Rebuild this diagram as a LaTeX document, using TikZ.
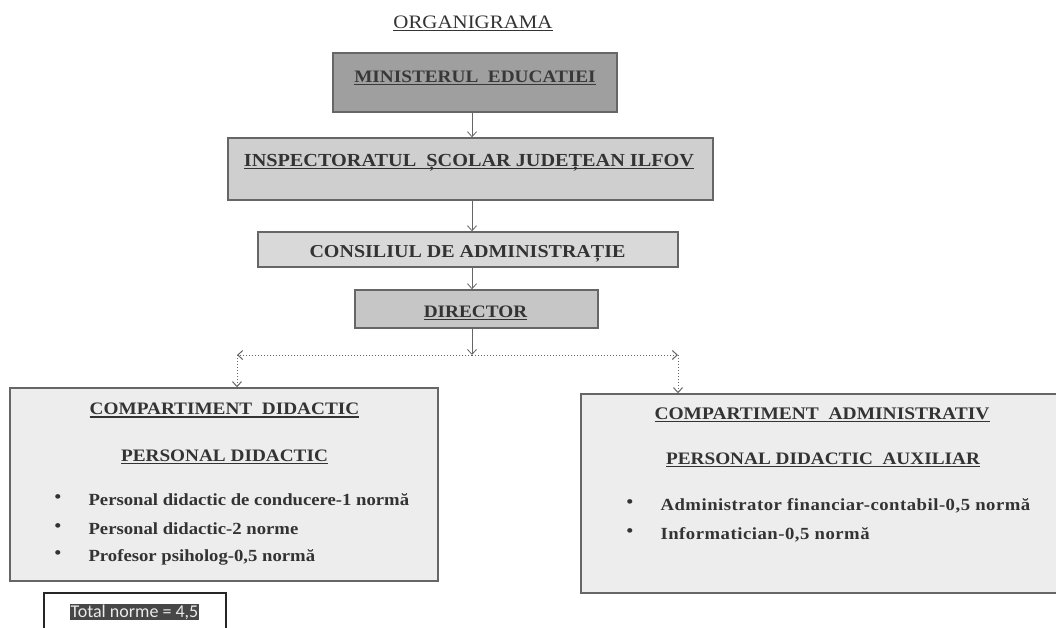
\documentclass[tikz,border=0pt]{standalone}
\usepackage{fontspec}
\setmainfont{Liberation Serif}[FakeStretch=1.1]
\newfontfamily\calib{Carlito}
\usetikzlibrary{arrows.meta}
\definecolor{txt}{HTML}{333333}
\definecolor{edge}{HTML}{666666}
\newcommand\myul[1]{\setbox0\hbox{#1}\rlap{\rule[-3pt]{\wd0}{1.3pt}}\box0}
\tikzset{
  x=1pt,y=-1pt,
  box/.style={draw=edge,line width=1.4pt,inner sep=0pt},
  head/.style={anchor=base,text=txt,font=\fontsize{17.5}{20}\selectfont\bfseries},
  item/.style={anchor=base west,text=txt,font=\fontsize{17}{20}\selectfont\bfseries},
  bul/.style={anchor=center,text=txt,font=\fontsize{17}{20}\selectfont\bfseries},
  arr/.style={draw=gray!80!black,line width=0.8pt,-{Straight Barb[length=5pt,width=9pt]}},
  dotarr/.style={draw=gray!80!black,line width=1pt,dotted,-{Straight Barb[length=5pt,width=9pt]}}
}
\begin{document}
\begin{tikzpicture}
\useasboundingbox (0,0) rectangle (1056,627);
\clip (0,0) rectangle (1056,627);
\fill[white] (0,0) rectangle (1056,627);
\coordinate (spine) at (472,0);
% title
\node[anchor=base,text=txt,font=\fontsize{19}{22}\selectfont] (title) at (473,28) {\myul{ORGANIGRAMA}};
% boxes
\node[box,fill=gray!75,minimum width=284,minimum height=59] (min) at (475,82.5) {};
\node[head,text=black!78] (mint) at (475,82) {\myul{MINISTERUL\ \ EDUCATIEI}};
\node[box,fill=gray!38,minimum width=485,minimum height=62] (insp) at (470.5,169) {};
\node[head,font=\fontsize{18.4}{21}\selectfont\bfseries] (inspt) at (469,166) {\myul{INSPECTORATUL\ \ ȘCOLAR JUDEȚEAN ILFOV}};
\node[box,fill=gray!30,minimum width=420,minimum height=35] (cons) at (468,249.5) {};
\node[head,font=\fontsize{18.2}{21}\selectfont\bfseries] (const) at (467.5,257) {CONSILIUL DE ADMINISTRAȚIE};
\node[box,fill=gray!45,minimum width=243,minimum height=38] (dir) at (476.5,309) {};
\node[head] (dirt) at (475.5,317) {\myul{DIRECTOR}};
% compartments
\node[box,fill=gray!14,minimum width=428,minimum height=193] (left) at (224,484.5) {};
\node[head] (lh1) at (224.5,414.5) {\myul{COMPARTIMENT\ \ DIDACTIC}};
\node[head] (lh2) at (224.5,461) {\myul{PERSONAL DIDACTIC}};
\node[bul] (lb1) at (58,499) {•};
\node[bul] (lb2) at (58,528) {•};
\node[bul] (lb3) at (58,555) {•};
\node[item] (li1) at (85,505) {Personal didactic de conducere-1 normă};
\node[item] (li2) at (85,534) {Personal didactic-2 norme};
\node[item] (li3) at (85,561) {Profesor psiholog-0,5 normă};
\node[box,fill=gray!14,minimum width=500,minimum height=199] (right) at (831,493.5) {};
\node[head,font=\fontsize{17.7}{21}\selectfont\bfseries] (rh1) at (822,419) {\myul{COMPARTIMENT\ \ ADMINISTRATIV}};
\node[head] (rh2) at (823,464) {\myul{PERSONAL DIDACTIC\ \ AUXILIAR}};
\node[bul] (rb1) at (630,504) {•};
\node[bul] (rb2) at (630,533) {•};
\node[item] (ri1) at (657,510) {\addfontfeature{LetterSpace=3}Administrator financiar-contabil-0,5 normă};
\node[item] (ri2) at (657,539) {\addfontfeature{LetterSpace=3}Informatician-0,5 normă};
% total
\node[draw=black!85,line width=1.4pt,fill=white,minimum width=182,minimum height=48,inner sep=0pt] (tot) at (135,617) {};
\node[fill=black!72,text=white!92!black,inner sep=1pt,font=\calib\fontsize{18}{21}\selectfont] (tott) at (134.5,612) {Total norme = 4,5};
% connectors
\coordinate (j) at (472,355);
\coordinate (cl) at (237,355);
\coordinate (cr) at (678,355);
\draw[arr] (min.south -| spine) -- (insp.north -| spine);
\draw[arr] (insp.south -| spine) -- (cons.north -| spine);
\draw[arr] (cons.south -| spine) -- (dir.north -| spine);
\draw[arr] (dir.south -| spine) -- (j);
\draw[dotarr] (j) -- (cl);
\draw[dotarr] (j) -- (cr);
\draw[dotarr] (cl) -- (cl |- left.north);
\draw[dotarr] (cr) -- (cr |- right.north);
\end{tikzpicture}
\end{document}
